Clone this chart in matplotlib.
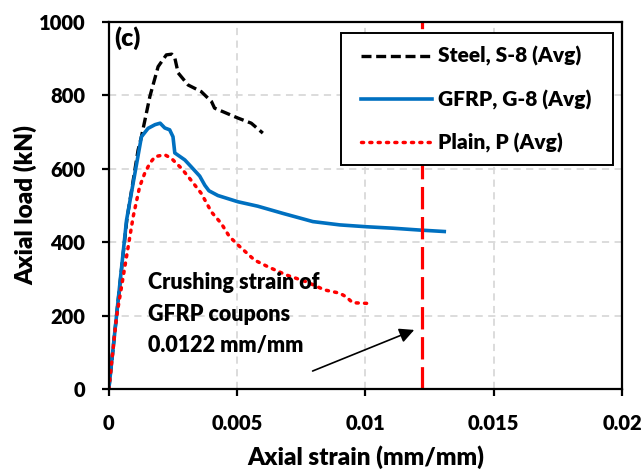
import numpy as np
import matplotlib
matplotlib.use("Agg")
import matplotlib.pyplot as plt
from matplotlib.patches import Rectangle

plt.rcParams["font.family"] = ["Lato", "DejaVu Sans"]
plt.rcParams["font.weight"] = "heavy"
plt.rcParams["axes.labelweight"] = "heavy"

# Steel, S-8 (Avg)
steel_strain = [0.0, 0.0003, 0.0007, 0.00114, 0.00127, 0.0016, 0.00192, 0.00224, 0.00245,
                0.00257, 0.0027, 0.00309, 0.0036, 0.0040, 0.00412, 0.00503, 0.00555, 0.0060]
steel_load = [0, 200, 460, 651, 687, 797, 878, 910, 912,
              902, 861, 828, 810, 783, 765, 738, 724, 697]

# GFRP, G-8 (Avg)
gfrp_strain = [0.0, 0.0003, 0.00069, 0.00127, 0.00153, 0.0018, 0.0020, 0.00218, 0.00237,
               0.0025, 0.00257, 0.00296, 0.0032, 0.00354, 0.00374, 0.0039, 0.00425, 0.00503,
               0.0058, 0.0068, 0.00795, 0.0090, 0.01003, 0.01106, 0.0121, 0.01307]
gfrp_load = [0, 200, 460, 687, 710, 720, 724, 711, 706,
             687, 643, 624, 606, 580, 555, 540, 527, 510,
             498, 478, 456, 447, 442, 438, 433, 429]

# Plain, P (Avg)
plain_strain = [0.0, 0.0003, 0.00095, 0.0012, 0.0014, 0.0016, 0.0018, 0.00218, 0.00244,
                0.00283, 0.0032, 0.0036, 0.0040, 0.00438, 0.0047, 0.0051, 0.00568, 0.0062,
                0.0069, 0.0077, 0.0084, 0.0090, 0.00925, 0.0095, 0.01016]
plain_load = [0, 197, 470, 551, 588, 615, 633, 638, 628,
              601, 569, 533, 482, 451, 415, 388, 351, 333,
              311, 292, 270, 261, 251, 235, 233]

crush_strain = 0.0122
arrow_tail = (0.00794, 49)
arrow_head = (0.0119, 161)

fig = plt.figure(figsize=(6.44, 4.75), dpi=100)
ax = fig.add_axes([0.169, 0.181, 0.797, 0.773])

ax.grid(True, color="#d9d9d9", linestyle=(0, (4, 3)), linewidth=1.3)
ax.set_axisbelow(True)

ax.plot(steel_strain, steel_load, color="black", linestyle=(0, (3, 1.4)),
        linewidth=2.4, label="Steel, S-8 (Avg)")
ax.plot(gfrp_strain, gfrp_load, color="#0070C0", linewidth=2.6,
        label="GFRP, G-8 (Avg)")
ax.plot(plain_strain, plain_load, color="red", linestyle=(0, (0.6, 1.8)),
        linewidth=2.5, dash_capstyle="round", label="Plain, P (Avg)")
ax.axvline(crush_strain, color="red", linestyle=(0, (7, 2.4)), linewidth=2.3)

ax.set_xlim(0, 0.02)
ax.set_ylim(0, 1000)
ax.set_xticks([0, 0.005, 0.01, 0.015, 0.02])
ax.set_xticklabels(["0", "0.005", "0.01", "0.015", "0.02"])
ax.set_yticks([0, 200, 400, 600, 800, 1000])

for s in ax.spines.values():
    s.set_linewidth(1.6)
ax.tick_params(direction="out", length=5, width=1.6, labelsize=14.5)
ax.tick_params(axis="x", pad=13)
ax.tick_params(axis="y", pad=12)

ax.set_xlabel("Axial strain (mm/mm)", fontsize=17.5, labelpad=9)
ax.set_ylabel("Axial load (kN)", fontsize=17.5, labelpad=1)

ax.text(0.01, 0.988, "(c)", transform=ax.transAxes, fontsize=18,
        va="top", ha="left")

ax.text(0.00152, 204, "Crushing strain of\nGFRP coupons\n0.0122 mm/mm",
        fontsize=15.5, ha="left", va="center", linespacing=1.6)
ax.annotate("", xy=arrow_head, xytext=arrow_tail,
            arrowprops=dict(arrowstyle="-|>", color="black", lw=1.2,
                            mutation_scale=22, shrinkA=0, shrinkB=0))

# legend box drawn separately to get Excel-like padding
ax.add_patch(Rectangle((0.452, 0.610), 0.530, 0.360, transform=ax.transAxes,
                       facecolor="white", edgecolor="black", linewidth=1.4,
                       zorder=4.5))
leg = ax.legend(loc="center", bbox_to_anchor=(0.716, 0.788), fontsize=15,
                handlelength=3.4, labelspacing=1.12, handletextpad=0.3,
                frameon=False)
leg.set_zorder(5)

fig.savefig("out.png", dpi=100)
